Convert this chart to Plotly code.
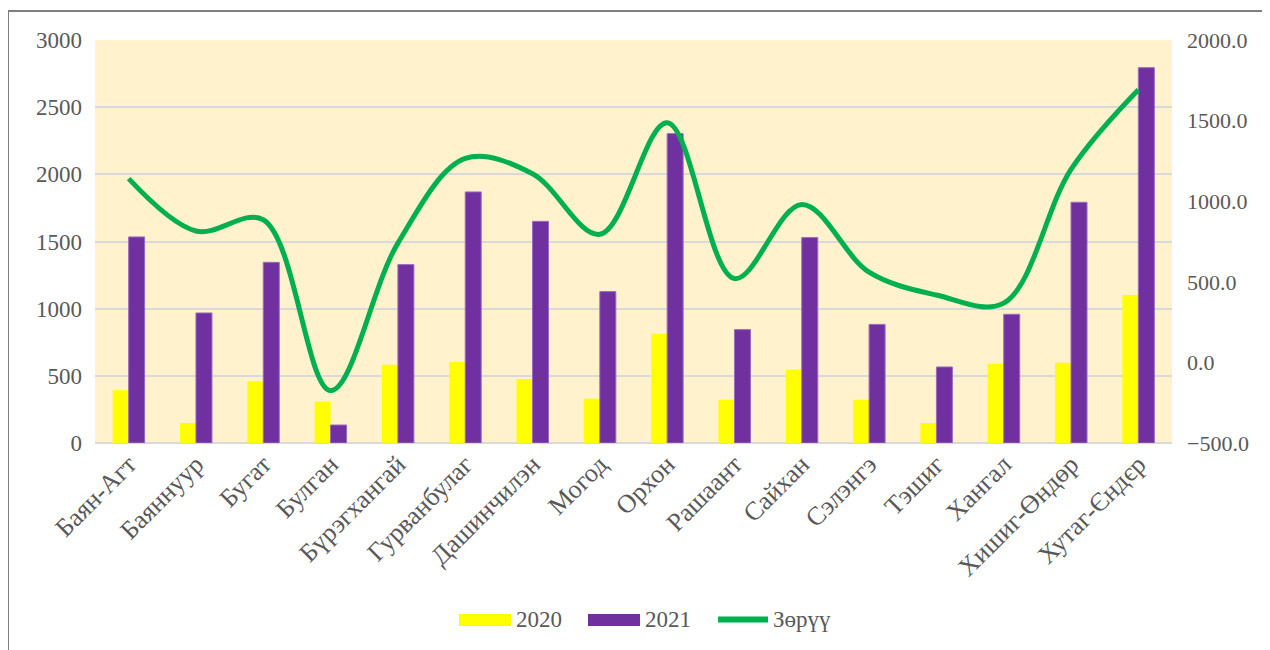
import plotly.graph_objects as go

categories = ["Баян-Агт", "Баяннуур", "Бугат", "Булган", "Бүрэгхангай", "Гурванбулаг",
              "Дашинчилэн", "Могод", "Орхон", "Рашаант", "Сайхан", "Сэлэнгэ",
              "Тэшиг", "Хангал", "Хишиг-Өндөр", "Хутаг-Єндєр"]
values_2020 = [392, 149, 459, 307, 583, 603, 477, 330, 814, 322, 546, 322, 149, 590, 597, 1102]
values_2021 = [1534, 968, 1345, 134, 1328, 1869, 1650, 1127, 2303, 844, 1529, 883, 566, 958, 1792, 2794]
difference = [1140, 815, 885, -175, 740, 1265, 1170, 795, 1487, 520, 980, 560, 418, 368, 1198, 1692]
legend_names = ["2020", "2021", "Зөрүү"]

FONT = "Liberation Serif"
GRAY = "#595959"
YELLOW = "#FFFF00"
PURPLE = "#7030A0"
GREEN = "#00B050"

# plot area in screenshot pixels
PX0, PX1, PY0, PY1 = 95, 1172, 40, 443
def px(X):
    return (X - PX0) / (PX1 - PX0)
def py(Y):
    return (PY1 - Y) / (PY1 - PY0)

fig = go.Figure()
fig.add_trace(go.Bar(x=categories, y=values_2020, name=legend_names[0], showlegend=False,
                     marker=dict(color=YELLOW, line=dict(width=0))))
fig.add_trace(go.Bar(x=categories, y=values_2021, name=legend_names[1], showlegend=False,
                     marker=dict(color=PURPLE, line=dict(color="#9A6BBF", width=1))))
fig.add_trace(go.Scatter(x=categories, y=difference, name=legend_names[2], yaxis="y2", showlegend=False,
                         mode="lines", line=dict(color=GREEN, width=5, shape="spline", smoothing=1.0)))

shapes = [
    dict(type="line", xref="paper", yref="paper", x0=px(8), x1=px(8), y0=py(11), y1=py(650),
         line=dict(color="#7F7F7F", width=2)),
    dict(type="line", xref="paper", yref="paper", x0=px(8), x1=px(1269), y0=py(11), y1=py(11),
         line=dict(color="#7F7F7F", width=2)),
    # legend symbols
    dict(type="rect", xref="paper", yref="paper", x0=px(459), x1=px(511), y0=py(626), y1=py(614),
         fillcolor=YELLOW, line=dict(width=0)),
    dict(type="rect", xref="paper", yref="paper", x0=px(588), x1=px(640), y0=py(626), y1=py(614),
         fillcolor=PURPLE, line=dict(width=0)),
    dict(type="line", xref="paper", yref="paper", x0=px(718), x1=px(768), y0=py(619.5), y1=py(619.5),
         line=dict(color=GREEN, width=6)),
]
annotations = [
    dict(xref="paper", yref="paper", x=px(X), y=py(619), text=t, showarrow=False,
         xanchor="left", yanchor="middle", font=dict(family=FONT, size=23, color=GRAY))
    for X, t in zip([514, 643, 771], legend_names)
]

fig.update_layout(
    width=1262, height=642,
    margin=dict(l=87, r=98, t=32, b=207),
    paper_bgcolor="white",
    plot_bgcolor="#FFF2CC",
    barmode="group", bargap=0.525, bargroupgap=0,
    showlegend=False,
    font=dict(family=FONT, size=22, color=GRAY),
    xaxis=dict(tickangle=-45, tickfont=dict(size=26, family=FONT, color=GRAY),
               showgrid=False, showline=False, ticks=""),
    yaxis=dict(range=[0, 3000], dtick=500, showgrid=True, gridcolor="#D9D9D9", gridwidth=2,
               zeroline=True, zerolinecolor="#D9D9D9", zerolinewidth=2,
               tickfont=dict(size=23, family=FONT, color=GRAY), ticks="", ticklabelstandoff=12),
    yaxis2=dict(range=[-500, 2000], dtick=500, overlaying="y", side="right", showgrid=False,
                zeroline=False, tickformat=".1f",
                tickfont=dict(size=22, family=FONT, color=GRAY), ticks="", ticklabelstandoff=14),
    shapes=shapes,
    annotations=annotations,
)

fig.write_html("out.html")
